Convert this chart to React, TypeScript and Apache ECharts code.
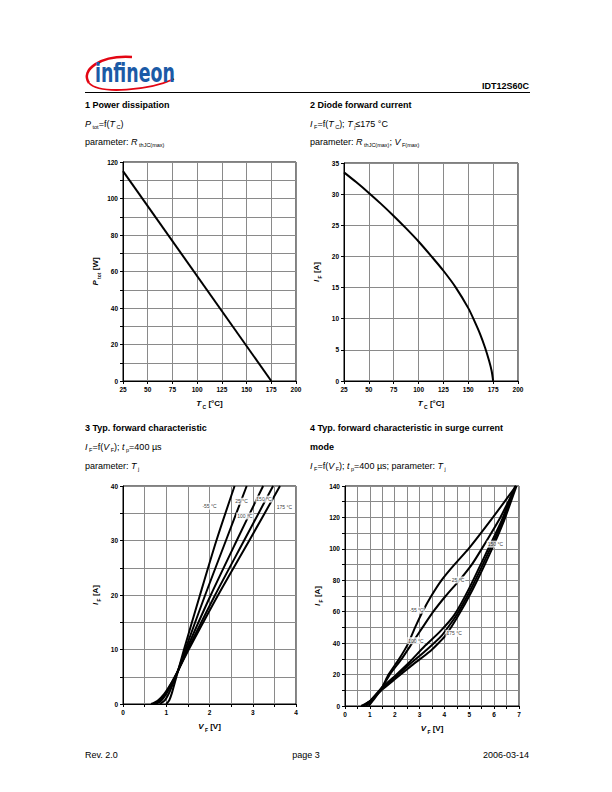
import React, { useEffect, useRef } from 'react';
import * as echarts from 'echarts';

// Chart 1: power dissipation
const ptotTc = [25, 175];
const ptotW = [115, 0];

// Chart 2: diode forward current vs case temperature
const ifTc = [25, 37.5, 50, 62.5, 75, 87.5, 100, 112.5, 125, 137.5, 150, 156, 162, 167, 171, 173.5, 175];
const ifA = [33.5, 31.9, 30.2, 28.4, 26.5, 24.5, 22.4, 20.1, 17.7, 15.0, 11.7, 9.7, 7.5, 5.3, 3.2, 1.6, 0];

// Chart 3: typical forward characteristic  [V_F, I_F]
const fwdTemps = ['-55 °C', '25 °C', '100 °C', '150 °C', '175 °C'];
const fwd_m55 = [[1.0, 0], [1.07, 0.7], [1.13, 2], [1.2, 4], [1.27, 6], [1.41, 10], [1.78, 20], [2.16, 30], [2.58, 40]];
const fwd_25 = [[0.85, 0], [0.97, 0.7], [1.07, 2.1], [1.17, 4.0], [1.27, 6.1], [1.44, 10], [1.9, 20], [2.38, 30], [2.86, 40]];
const fwd_100 = [[0.75, 0], [0.88, 0.6], [1.01, 2.0], [1.14, 3.9], [1.27, 6.0], [1.47, 10], [2.03, 20], [2.63, 30], [3.24, 40]];
const fwd_150 = [[0.7, 0], [0.84, 0.6], [0.98, 1.9], [1.12, 3.8], [1.26, 5.9], [1.5, 10], [2.13, 20], [2.8, 30], [3.47, 40]];
const fwd_175 = [[0.65, 0], [0.8, 0.6], [0.95, 1.8], [1.1, 3.6], [1.25, 5.8], [1.52, 10], [2.2, 20], [2.92, 30], [3.63, 40]];
const fwdLabelAt = [[2.0, 36.3], [2.74, 37.2], [2.82, 34.5], [3.26, 37.6], [3.73, 36.1]];

// Chart 4: surge current mode  [V_F, I_F]
const srg_m55 = [[0.95, 0], [1.2, 5], [1.5, 12], [1.75, 20], [2.18, 30], [2.55, 40], [2.82, 50], [3.12, 60], [3.47, 70], [3.88, 80], [4.4, 90], [4.97, 100], [5.95, 120], [6.88, 140]];
const srg_25 = [[0.85, 0], [1.1, 4], [1.5, 12], [1.8, 20], [2.28, 30], [2.7, 40], [3.12, 50], [3.55, 60], [4.05, 70], [4.6, 80], [5.1, 90], [5.5, 100], [6.25, 120], [6.88, 140]];
const srg_100 = [[0.75, 0], [1.0, 3], [1.5, 12], [2.0, 19], [2.6, 28], [3.2, 38], [3.8, 47], [4.4, 58], [5.0, 75], [5.7, 98], [6.3, 118], [6.85, 140]];
const srg_150 = [[0.7, 0], [1.0, 3], [1.5, 11], [2.0, 18], [2.6, 26.5], [3.3, 36], [3.9, 45], [4.45, 57], [5.05, 74], [5.75, 97], [6.35, 118], [6.87, 140]];
const srg_175 = [[0.65, 0], [1.0, 3], [1.5, 10.5], [2.0, 17], [2.7, 26], [3.4, 34.5], [4.0, 44], [4.5, 56], [5.1, 73], [5.8, 96], [6.4, 118], [6.9, 140]];
const srgLabelAt = [[2.88, 61], [4.55, 80.2], [2.85, 41.6], [6.05, 103], [4.39, 46.2]];

const FONT = 'Liberation Sans, Arial, sans-serif';

const isMult = (v: number, m: number) => Math.abs(v / m - Math.round(v / m)) < 1e-6;

const axisRich = {
  i: { fontFamily: FONT, fontSize: 8, fontStyle: 'italic', fontWeight: 'bold', color: '#000', lineHeight: 11 },
  s: { fontFamily: FONT, fontSize: 5, fontWeight: 'bold', color: '#000', lineHeight: 11, verticalAlign: 'bottom' },
  b: { fontFamily: FONT, fontSize: 8, fontWeight: 'bold', color: '#000', lineHeight: 11 },
};

function mkAxis(gridIndex: number, min: number, max: number, interval: number, labelStep: number, name: string, isY: boolean) {
  return {
    type: 'value',
    gridIndex,
    min,
    max,
    interval,
    name,
    nameLocation: 'middle',
    nameGap: isY ? 22 : 17,
    nameRotate: isY ? 90 : 0,
    nameTextStyle: { rich: axisRich },
    axisLine: { show: true, onZero: false, lineStyle: { color: '#000', width: 1 } },
    axisTick: { show: true, length: 3, lineStyle: { color: '#000' } },
    axisLabel: {
      fontFamily: FONT,
      fontSize: 6.5,
      fontWeight: 'bold',
      color: '#000',
      margin: 5,
      formatter: (v: number) => (isMult(v, labelStep) ? String(Math.round(v * 100) / 100) : ''),
    },
    splitLine: { show: true, lineStyle: { color: '#8a8a8a', width: 1 } },
  };
}

function curve(data: number[][], gi: number, name: string, smooth: number) {
  return {
    type: 'line',
    name,
    xAxisIndex: gi,
    yAxisIndex: gi,
    data,
    showSymbol: false,
    symbol: 'none',
    smooth,
    lineStyle: { color: '#000', width: 2 },
    z: 3,
  };
}

function labels(gi: number, at: number[][], names: string[]) {
  return {
    type: 'scatter',
    xAxisIndex: gi,
    yAxisIndex: gi,
    symbolSize: 0,
    data: at.map((p, k) => [p[0], p[1], names[k]]),
    z: 10,
    label: {
      show: true,
      position: 'inside',
      formatter: (p: any) => p.value[2],
      fontFamily: FONT,
      fontSize: 5,
      color: '#000',
      backgroundColor: '#fff',
      padding: [1, 1, 1, 1],
    },
  };
}

const tRich = {
  b: { fontFamily: FONT, fontSize: 9, fontWeight: 'bold', color: '#000', lineHeight: 12 },
  n: { fontFamily: FONT, fontSize: 9, color: '#000', lineHeight: 12 },
  i: { fontFamily: FONT, fontSize: 9, fontStyle: 'italic', color: '#000', lineHeight: 12 },
  s: { fontFamily: FONT, fontSize: 5.5, color: '#000', lineHeight: 12, verticalAlign: 'bottom' },
};

function pageText(x: number, y: number, text: string, align = 'left') {
  return {
    type: 'text',
    x,
    y,
    style: { text, rich: tRich, align, verticalAlign: 'middle', textAlign: align, textVerticalAlign: 'middle' },
  };
}

export default function App() {
  const ref = useRef<HTMLDivElement>(null);
  useEffect(() => {
    if (!ref.current) return;
    const chart = echarts.init(ref.current, undefined, { renderer: 'svg' });
    const fwdSeries = [fwd_m55, fwd_25, fwd_100, fwd_150, fwd_175];
    const srgSeries = [srg_m55, srg_25, srg_100, srg_150, srg_175];
    const option: any = {
      animation: false,
      backgroundColor: '#fff',
      grid: [
        { left: 123, top: 162, width: 173, height: 219, show: true, borderColor: '#000', borderWidth: 1 },
        { left: 344, top: 163, width: 174, height: 218, show: true, borderColor: '#000', borderWidth: 1 },
        { left: 123, top: 486, width: 173, height: 218, show: true, borderColor: '#000', borderWidth: 1 },
        { left: 345, top: 486, width: 174, height: 220, show: true, borderColor: '#000', borderWidth: 1 },
      ],
      xAxis: [
        mkAxis(0, 25, 200, 25, 25, '{i|T}{s| C}{b| [°C]}', false),
        mkAxis(1, 25, 200, 25, 25, '{i|T}{s| C}{b| [°C]}', false),
        mkAxis(2, 0, 4, 0.5, 1, '{i|V}{s| F}{b| [V]}', false),
        mkAxis(3, 0, 7, 0.5, 1, '{i|V}{s| F}{b| [V]}', false),
      ],
      yAxis: [
        mkAxis(0, 0, 120, 10, 20, '{i|P}{s| tot}{b| [W]}', true),
        mkAxis(1, 0, 35, 5, 5, '{i|I}{s| F}{b| [A]}', true),
        mkAxis(2, 0, 40, 5, 10, '{i|I}{s| F}{b| [A]}', true),
        mkAxis(3, 0, 140, 10, 20, '{i|I}{s| F}{b| [A]}', true),
      ],
      series: [
        curve(ptotTc.map((t, k) => [t, ptotW[k]]), 0, 'Ptot', 0),
        curve(ifTc.map((t, k) => [t, ifA[k]]), 1, 'IF', 0.3),
        ...fwdSeries.map((d, k) => curve(d, 2, fwdTemps[k], 0.25)),
        labels(2, fwdLabelAt, fwdTemps),
        ...srgSeries.map((d, k) => curve(d, 3, fwdTemps[k], 0.15)),
        labels(3, srgLabelAt, fwdTemps),
      ],
      graphic: [
        // logo
        {
          type: 'bezierCurve',
          shape: { x1: 132, y1: 57, cpx1: 100, cpy1: 55, cpx2: 80, cpy2: 70, x2: 89, y2: 83 },
          style: { stroke: '#e30613', lineWidth: 2.5, fill: null },
        },
        {
          type: 'bezierCurve',
          shape: { x1: 89, y1: 83, cpx1: 100, cpy1: 95, cpx2: 150, cpy2: 90, x2: 174, y2: 79 },
          style: { stroke: '#e30613', lineWidth: 1.8, fill: null },
        },
        {
          type: 'text',
          x: 95,
          y: 73,
          scaleX: 0.67,
          style: {
            text: 'infineon',
            fontFamily: 'DejaVu Sans, sans-serif',
            fontSize: 26,
            fontWeight: 'bold',
            fill: '#1b5aa6',
            align: 'left',
            verticalAlign: 'middle',
          },
        },
        pageText(529, 86, '{b|IDT12S60C}', 'right'),
        { type: 'line', shape: { x1: 85, y1: 92.5, x2: 530, y2: 92.5 }, style: { stroke: '#000', lineWidth: 1 } },
        // chart 1 titles
        pageText(85, 105, '{b|1 Power dissipation}'),
        pageText(85, 124, '{i|P}{s| tot}{n|=f(}{i|T}{s| C}{n|)}'),
        pageText(85, 142, '{n|parameter: }{i|R}{s| thJC(max)}'),
        // chart 2 titles
        pageText(310, 105, '{b|2 Diode forward current}'),
        pageText(310, 124, '{i|I}{s| F}{n|=f(}{i|T}{s| C}{n|); }{i|T}{s| j}{n|≤175 °C}'),
        pageText(310, 142, '{n|parameter: }{i|R}{s| thJC(max)}{n|; }{i|V}{s| F(max)}'),
        // chart 3 titles
        pageText(85, 428, '{b|3 Typ. forward characteristic}'),
        pageText(85, 447, '{i|I}{s| F}{n|=f(}{i|V}{s| F}{n|); }{i|t}{s| p}{n|=400 µs}'),
        pageText(85, 466, '{n|parameter: }{i|T}{s| j}'),
        // chart 4 titles
        pageText(310, 428, '{b|4 Typ. forward characteristic in surge current}'),
        pageText(310, 447, '{b|mode}'),
        pageText(310, 466, '{i|I}{s| F}{n|=f(}{i|V}{s| F}{n|); }{i|t}{s| p}{n|=400 µs; parameter: }{i|T}{s| j}'),
        // footer
        pageText(85, 755, '{n|Rev. 2.0}'),
        pageText(306, 755, '{n|page 3}', 'center'),
        pageText(529, 755, '{n|2006-03-14}', 'right'),
      ],
    };
    chart.setOption(option);
    return () => chart.dispose();
  }, []);
  return <div ref={ref} style={{ position: 'absolute', left: 0, top: 0, width: 612, height: 792 }} />;
}
